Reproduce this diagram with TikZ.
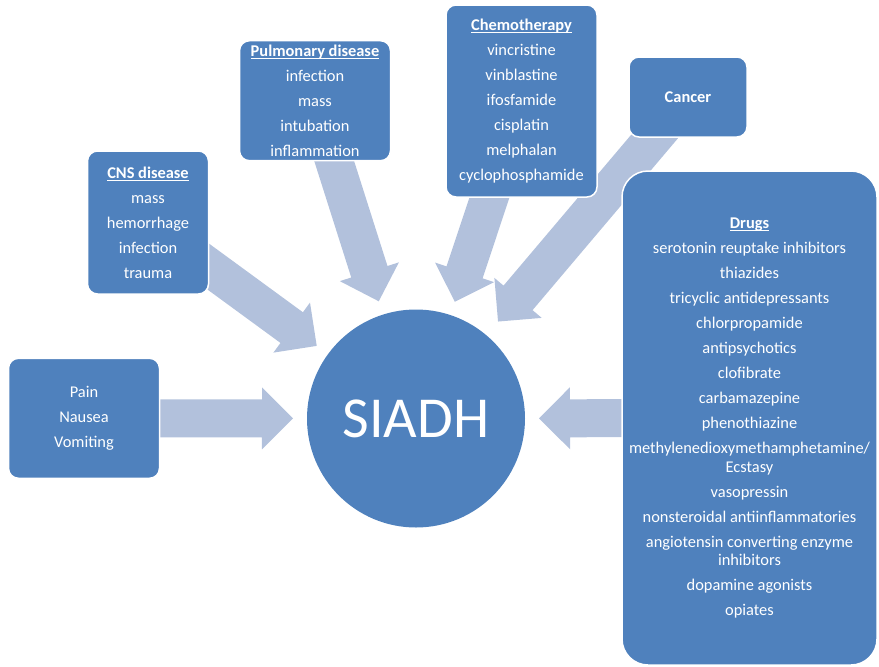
\documentclass[tikz,border=0pt]{standalone}
\usepackage{fontspec}
\setmainfont{Carlito}
\usepackage{tikz}
\usetikzlibrary{calc}
\definecolor{SmartBlue}{HTML}{4F81BD}
\definecolor{SmartPale}{HTML}{B2C1DC}
\tikzset{
  causebox/.style={draw=white,line width=1.5pt,fill=SmartBlue,rounded corners=10pt,align=center,inner sep=0pt,text=white,font=\fontsize{16.4}{25}\selectfont},
  hubcircle/.style={circle,fill=SmartBlue,minimum size=218pt,inner sep=0pt,text=white,font=\fontsize{58}{58}\selectfont},
  blockfill/.style={fill=SmartPale}
}
\newcommand{\boxtitle}[1]{\leavevmode\setbox0\hbox{\bfseries #1}\rlap{\rule[-2.4pt]{\wd0}{0.9pt}}\box0}
\newcommand{\blockarrow}[3][123pt]{%
  \path ($(#3)!#1!(#2)$) coordinate (tip) ($(tip)!31pt!(#2)$) coordinate (hb);
  \fill[blockfill] ($(#2)!19pt!90:(tip)$) -- ($(hb)!19pt!-90:(#2)$) -- ($(hb)!31pt!-90:(#2)$) -- (tip)
    -- ($(hb)!31pt!90:(#2)$) -- ($(hb)!19pt!90:(#2)$) -- ($(#2)!19pt!-90:(tip)$) -- cycle;}
\pgfdeclarelayer{back}
\pgfsetlayers{back,main}

\begin{document}
\begin{tikzpicture}[x=1pt,y=-1pt]
\useasboundingbox (0,0) rectangle (879,667);
\node[hubcircle] (siadh) at (416,418.5) {SIADH};
\node[causebox,minimum width=121pt,minimum height=143pt] (cns) at (148,222.5) {\boxtitle{CNS disease}\\mass\\hemorrhage\\infection\\trauma};
\node[causebox,minimum width=151pt,minimum height=120pt] (pulm) at (315,100.7) {\boxtitle{Pulmonary disease}\\infection\\mass\\intubation\\inflammation};
\node[causebox,minimum width=151pt,minimum height=192pt] (chemo) at (521.5,101) {\boxtitle{Chemotherapy}\\vincristine\\vinblastine\\ifosfamide\\cisplatin\\melphalan\\cyclophosphamide};
\node[causebox,minimum width=118pt,minimum height=80pt] (cancer) at (688,97) {\textbf{Cancer}};
\node[causebox,minimum width=151pt,minimum height=120pt] (pain) at (84,418.3) {Pain\\Nausea\\Vomiting};
\node[causebox,rounded corners=26pt,minimum width=255pt,minimum height=494pt] (drugs) at (749.5,418) {\boxtitle{Drugs}\\serotonin reuptake inhibitors\\thiazides\\tricyclic antidepressants\\chlorpropamide\\antipsychotics\\clofibrate\\carbamazepine\\phenothiazine\\methylenedioxymethamphetamine/\\[-6.5pt]Ecstasy\\vasopressin\\nonsteroidal antiinflammatories\\angiotensin converting enzyme\\[-6.5pt]inhibitors\\dopamine agonists\\opiates};
\begin{pgfonlayer}{back}
\blockarrow{pain}{siadh}
\blockarrow{cns}{siadh}
\blockarrow{pulm}{siadh}
\blockarrow{chemo}{siadh}
\blockarrow[127pt]{cancer}{siadh}
\blockarrow{drugs}{siadh}
\end{pgfonlayer}
\end{tikzpicture}
\end{document}
